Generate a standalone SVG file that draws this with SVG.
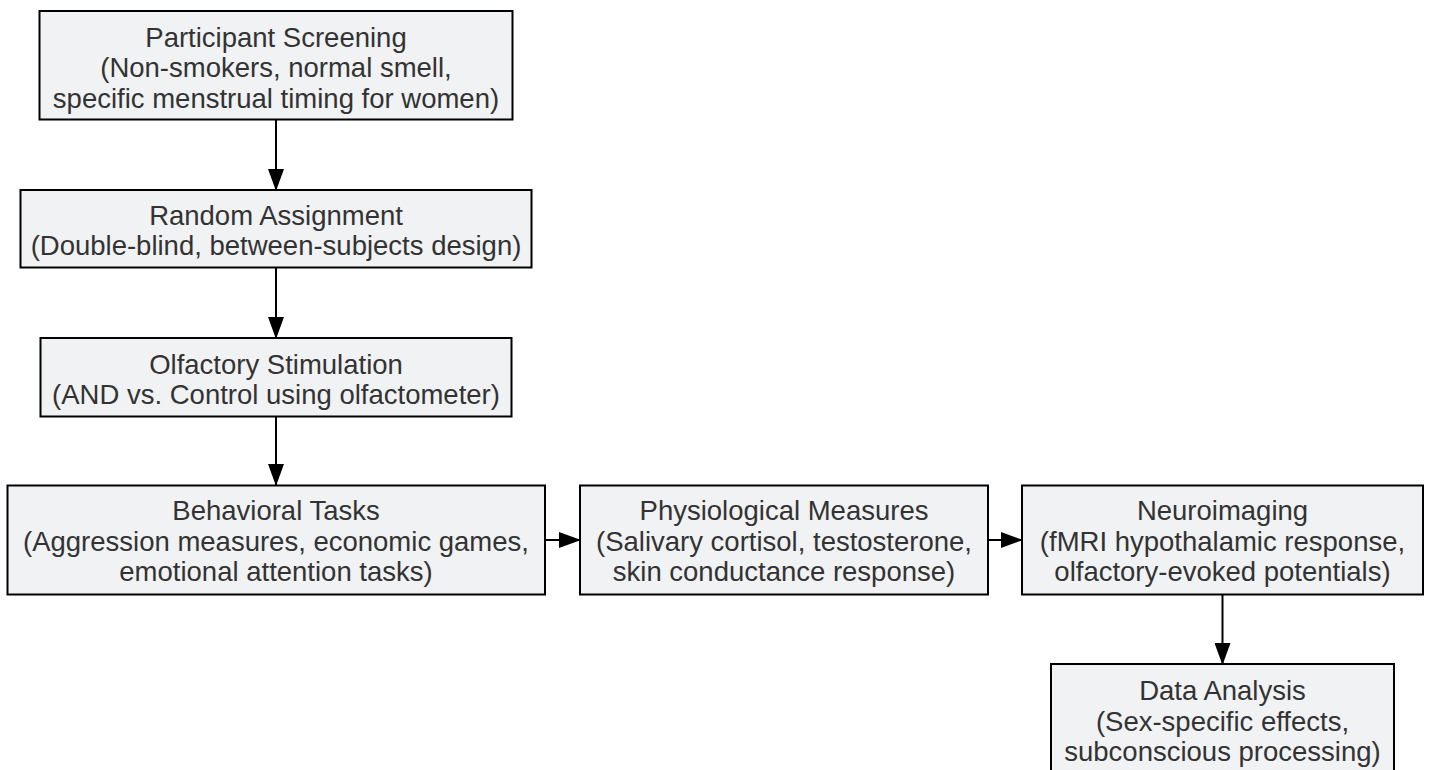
<svg xmlns="http://www.w3.org/2000/svg" width="1431" height="770" viewBox="0 0 1431 770">
<defs>
<style>
.box{fill:#f1f2f4;stroke:#000;stroke-width:2}
.t{font-family:"Liberation Sans",Arial,sans-serif;font-size:27.5px;fill:#333;text-anchor:middle;dominant-baseline:central}
.c{stroke:#000;stroke-width:2;fill:none}
</style>
<marker id="ah" markerWidth="22" markerHeight="16" refX="21" refY="8" orient="auto" markerUnits="userSpaceOnUse">
<path d="M0,0 L22,8 L0,16 Z" fill="#000"/>
</marker>
</defs>
<rect width="1431" height="770" fill="#fff"/>
<g id="connectors">
<line class="c" x1="276" y1="120" x2="276" y2="190" marker-end="url(#ah)"/>
<line class="c" x1="276" y1="268" x2="276" y2="338" marker-end="url(#ah)"/>
<line class="c" x1="276" y1="417" x2="276" y2="485" marker-end="url(#ah)"/>
<line class="c" x1="545" y1="540" x2="580" y2="540" marker-end="url(#ah)"/>
<line class="c" x1="988" y1="540" x2="1022" y2="540" marker-end="url(#ah)"/>
<line class="c" x1="1222.5" y1="595" x2="1222.5" y2="664" marker-end="url(#ah)"/>
</g>
<g id="n1">
<rect class="box" x="39.5" y="11" width="473" height="108.5"/>
<text class="t" x="276" y="37">Participant Screening</text>
<text class="t" x="276" y="67.5">(Non-smokers, normal smell,</text>
<text class="t" x="276" y="98">specific menstrual timing for women)</text>
</g>
<g id="n2">
<rect class="box" x="20.5" y="190" width="511" height="77.5"/>
<text class="t" x="276" y="215">Random Assignment</text>
<text class="t" x="276" y="245.5">(Double-blind, between-subjects design)</text>
</g>
<g id="n3">
<rect class="box" x="40.5" y="338" width="471" height="78.5"/>
<text class="t" x="276" y="364">Olfactory Stimulation</text>
<text class="t" x="276" y="394.5">(AND vs. Control using olfactometer)</text>
</g>
<g id="n4">
<rect class="box" x="7.5" y="485.5" width="537.5" height="109"/>
<text class="t" x="276" y="510.5">Behavioral Tasks</text>
<text class="t" x="276" y="541">(Aggression measures, economic games,</text>
<text class="t" x="276" y="571.5">emotional attention tasks)</text>
</g>
<g id="n5">
<rect class="box" x="580" y="485.5" width="408" height="109"/>
<text class="t" x="784" y="510.5">Physiological Measures</text>
<text class="t" x="784" y="541">(Salivary cortisol, testosterone,</text>
<text class="t" x="784" y="571.5">skin conductance response)</text>
</g>
<g id="n6">
<rect class="box" x="1022" y="485.5" width="401" height="109"/>
<text class="t" x="1222.5" y="510.5">Neuroimaging</text>
<text class="t" x="1222.5" y="541">(fMRI hypothalamic response,</text>
<text class="t" x="1222.5" y="571.5">olfactory-evoked potentials)</text>
</g>
<g id="n7">
<rect class="box" x="1051" y="664" width="343" height="109"/>
<text class="t" x="1222.5" y="690.5">Data Analysis</text>
<text class="t" x="1222.5" y="721">(Sex-specific effects,</text>
<text class="t" x="1222.5" y="751.5">subconscious processing)</text>
</g>
</svg>
